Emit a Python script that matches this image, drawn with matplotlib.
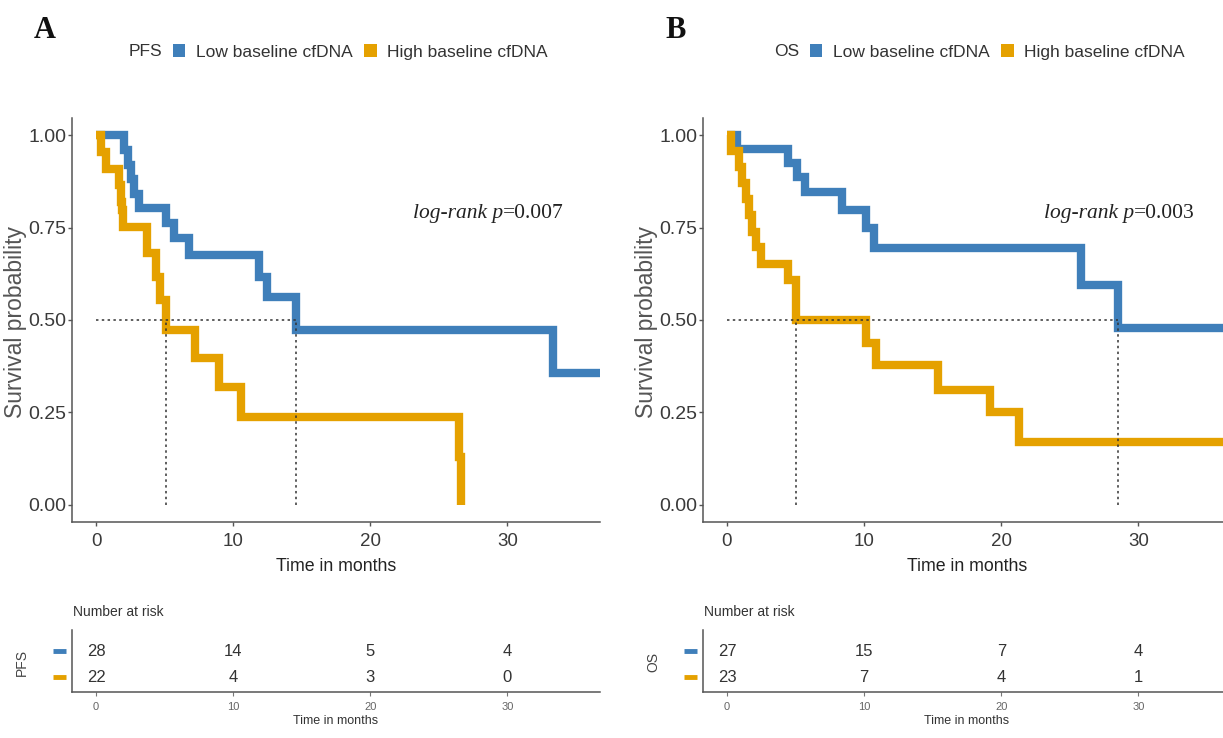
import matplotlib
matplotlib.use("Agg")
import matplotlib.pyplot as plt
from matplotlib.patches import Patch
import numpy as np

# ---- Kaplan-Meier step data (time in months, survival probability) ----
pfs_low_t = [0, 2.05, 2.3, 2.55, 2.8, 3.1, 5.1, 5.7, 6.8, 11.9, 12.5, 14.6, 33.3, 36.75]
pfs_low_s = [1.0, 0.960, 0.920, 0.880, 0.840, 0.803, 0.762, 0.722, 0.676, 0.616, 0.562, 0.473, 0.357, 0.357]
pfs_high_t = [0, 0.35, 0.7, 1.7, 1.8, 1.9, 2.0, 3.7, 4.35, 4.7, 5.1, 7.2, 9.0, 10.6, 26.45, 26.6]
pfs_high_s = [1.0, 0.955, 0.909, 0.864, 0.818, 0.797, 0.751, 0.680, 0.616, 0.554, 0.473, 0.397, 0.319, 0.238, 0.130, 0.0]

os_low_t = [0, 0.7, 4.45, 5.1, 5.7, 8.4, 10.1, 10.7, 25.8, 28.5, 36.75]
os_low_s = [1.0, 0.963, 0.924, 0.886, 0.846, 0.797, 0.749, 0.695, 0.595, 0.478, 0.478]
os_high_t = [0, 0.3, 0.85, 1.1, 1.35, 1.6, 1.85, 2.1, 2.5, 4.45, 5.0, 10.1, 10.9, 15.4, 19.2, 21.3, 36.75]
os_high_s = [1.0, 0.957, 0.913, 0.870, 0.826, 0.783, 0.739, 0.696, 0.652, 0.609, 0.500, 0.438, 0.378, 0.311, 0.251, 0.170, 0.170]

# ---- numbers at risk ----
risk_times = [0, 10, 20, 30]
pfs_risk_low = [28, 14, 5, 4]
pfs_risk_high = [22, 4, 3, 0]
os_risk_low = [27, 15, 7, 4]
os_risk_high = [23, 7, 4, 1]

group_labels = ["Low baseline cfDNA", "High baseline cfDNA"]
pfs_p = "0.007"
os_p = "0.003"
x_ticks = [0, 10, 20, 30]
y_ticks = [0.0, 0.25, 0.5, 0.75, 1.0]
y_tick_labels = ["0.00", "0.25", "0.50", "0.75", "1.00"]

BLUE = "#3F7FBA"
ORANGE = "#E5A100"
W, H = 1223, 738

SANS = "Liberation Sans"
SERIF = "Liberation Serif"
plt.rcParams["font.family"] = [SANS, "DejaVu Sans"]

fig = plt.figure(figsize=(W / 100, H / 100), dpi=100)


def fx(x):
    return x / W


def fy(y):
    return 1 - y / H


def median_time(t, s):
    for ti, si in zip(t, s):
        if si <= 0.5:
            return ti
    return None


XLIM = (-1.75, 36.75)
AX_W = 528
DOT = (0, (1.6, 2.2))


def style_axes(ax):
    for side in ["top", "right"]:
        ax.spines[side].set_visible(False)
    for side in ["left", "bottom"]:
        ax.spines[side].set_color("#555555")
        ax.spines[side].set_linewidth(1.1)


def km_panel(left_px, curves, pval, strata, letter, risk_low, risk_high, legend_x):
    ax = fig.add_axes([fx(left_px), fy(522), AX_W / W, (522 - 118) / H])
    ax.set_xlim(*XLIM)
    ax.set_ylim(-0.046, 1.046)

    meds = []
    for (t, s), col in zip(curves, [BLUE, ORANGE]):
        ax.step(t, s, where="post", color=col, lw=6, solid_joinstyle="miter",
                solid_capstyle="butt", zorder=3)
        meds.append(median_time(t, s))
    # median survival guide lines
    ax.plot([0, max(meds)], [0.5, 0.5], color="#333333", lw=1.1, ls=DOT, zorder=4)
    for m in meds:
        ax.plot([m, m], [0, 0.5], color="#333333", lw=1.1, ls=DOT, zorder=4)

    style_axes(ax)
    ax.set_xticks(x_ticks)
    ax.set_yticks(y_ticks)
    ax.set_yticklabels(y_tick_labels)
    ax.tick_params(axis="both", colors="#555555", labelcolor="#3a3a3a",
                   labelsize=14, length=3, width=1)
    ax.tick_params(axis="x", labelsize=13.5, pad=5)
    ax.tick_params(axis="y", pad=1)
    ax.set_xlabel("Time in months", fontsize=12.8, color="#222222", labelpad=6)
    fig.text(fx(left_px - 56), fy(322), "Survival probability", rotation=90,
             fontsize=16.5, color="#555555", ha="center", va="center")

    # log-rank annotation
    t1 = ax.text(0.645, 0.752, "log-rank p", transform=ax.transAxes,
                 family=SERIF, style="italic", fontsize=15.5, color="#222222",
                 va="baseline", ha="left")
    ax.annotate("=" + pval, xy=(1, 0), xycoords=t1, va="bottom", ha="left",
                family=SERIF, fontsize=15.5, color="#222222")

    # panel letter and legend
    fig.text(fx(left_px - 38), fy(30), letter, family=SERIF, weight="bold",
             fontsize=22, ha="left", va="center", color="#111111")
    fig.text(fx(legend_x - 11), fy(52), strata, fontsize=12.5, ha="right",
             va="center", color="#333333")
    handles = [Patch(facecolor=BLUE, edgecolor="none"),
               Patch(facecolor=ORANGE, edgecolor="none")]
    fig.legend(handles, group_labels, ncol=2, loc="center left",
               bbox_to_anchor=(fx(legend_x), fy(52)), frameon=False,
               fontsize=12.5, handlelength=0.7, handleheight=0.7,
               handletextpad=0.6, columnspacing=0.7, borderaxespad=0,
               borderpad=0, labelcolor="#333333")

    # risk table
    tb = fig.add_axes([fx(left_px), fy(692), AX_W / W, (692 - 630) / H])
    tb.set_xlim(*XLIM)
    tb.set_ylim(0, 1)
    style_axes(tb)
    tb.set_yticks([])
    tb.set_xticks(x_ticks)
    tb.tick_params(axis="x", colors="#777777", labelcolor="#666666",
                   labelsize=8, length=3, pad=4)
    tb.set_xlabel("Time in months", fontsize=9, color="#333333", labelpad=2)
    for yv, vals in [(0.66, risk_low), (0.24, risk_high)]:
        for tx, v in zip(risk_times, vals):
            tb.text(tx, yv, str(v), ha="center", va="center", fontsize=12,
                    color="#333333")
    fig.text(fx(left_px + 1), fy(612), "Number at risk", fontsize=10,
             ha="left", va="center", color="#333333")
    fig.text(fx(left_px - 50), fy(662), strata, fontsize=10, rotation=90,
             ha="center", va="center", color="#444444")
    for yy, col in [(651, BLUE), (677, ORANGE)]:
        fig.add_artist(plt.Line2D([fx(left_px - 19), fx(left_px - 6)], [fy(yy), fy(yy)],
                                  color=col, lw=3.5, solid_capstyle="butt"))
    return ax


km_panel(72, [(pfs_low_t, pfs_low_s), (pfs_high_t, pfs_high_s)], pfs_p, "PFS", "A",
         pfs_risk_low, pfs_risk_high, legend_x=173)
km_panel(703, [(os_low_t, os_low_s), (os_high_t, os_high_s)], os_p, "OS", "B",
         os_risk_low, os_risk_high, legend_x=810)

fig.savefig("out.png", dpi=100)
